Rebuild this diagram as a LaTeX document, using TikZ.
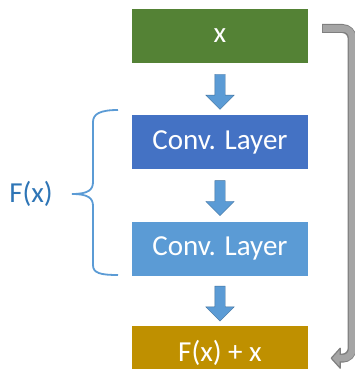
\documentclass[tikz,border=0pt]{standalone}
\usepackage{fontspec}
\setmainfont{Carlito}
\usepackage{tikz}
\usetikzlibrary{calc,positioning,shapes.arrows}
\definecolor{inputGreen}{HTML}{548235}
\definecolor{convDark}{HTML}{4472C4}
\definecolor{convLight}{HTML}{5B9BD5}
\definecolor{outputGold}{HTML}{BF9000}
\definecolor{arrowEdge}{HTML}{41719C}
\definecolor{skipFill}{HTML}{A5A5A5}
\definecolor{skipEdge}{HTML}{7F7F7F}
\definecolor{labelBlue}{HTML}{2E75B6}
\tikzstyle{downArrow} = [single arrow, rotate=-90, draw=arrowEdge, fill=convLight, inner xsep=0pt, inner ysep=5pt, single arrow head extend=9pt, minimum height=35pt]
\tikzstyle{skipOuter} = [line width=9pt, draw=skipEdge, rounded corners=10pt]
\tikzstyle{skipInner} = [line width=6.6pt, draw=skipFill, rounded corners=9pt]
\tikzstyle{skipHead} = [fill=skipFill, draw=skipEdge, line width=1.2pt, line join=round]
\tikzstyle{brace} = [draw=convLight, line width=1.8pt]

\begin{document}
\begin{tikzpicture}[x=1pt,y=1pt]
\tikzset{%
	layer/.style = { rectangle, minimum width=176pt, minimum height=54pt, inner sep=0pt, text=white, font=\fontsize{29}{34}\selectfont }
}
\useasboundingbox (0,0) rectangle (355,369);

\node(Input)		[layer, fill=inputGreen] at (220,333)
								{x};
\node(ConvA)		[layer, fill=convDark, below=52pt of Input.south]
								{Conv. Layer};
\node(ConvB)		[layer, fill=convLight, below=52pt of ConvA.south]
								{Conv. Layer};
\node(Output)		[layer, fill=outputGold, below=50pt of ConvB.south]
								{F(x) + x};

\node(ArrowA)		[downArrow] at ($(Input.south)!0.5!(ConvA.north)$) {};
\node(ArrowB)		[downArrow] at ($(ConvA.south)!0.5!(ConvB.north)$) {};
\node(ArrowC)		[downArrow] at ($(ConvB.south)!0.5!(Output.north)$) {};

% skip connection
\coordinate (SkipStart)	at ([xshift=14pt, yshift=7.5pt]Input.east);
\coordinate (SkipEnd)	at ([xshift=32pt, yshift=-5pt]Output.east);
\coordinate (SkipTip)	at ([xshift=23pt, yshift=-5pt]Output.east);

\draw [skipOuter]	(SkipStart) -- ++(30,0) |- (SkipEnd);
\draw [skipHead]	(SkipTip) -- ([yshift=10pt]SkipEnd) -- ([yshift=-10pt]SkipEnd) -- cycle;
\draw [skipInner]	([xshift=0.6pt]SkipStart) -- ++(29.4,0) |- ([xshift=-2pt]SkipEnd);

% brace for F(x)
\coordinate (BraceTop)	at (118,259);
\coordinate (BraceTip)	at (72,175);
\coordinate (BraceBot)	at (118,94);
\node(Fx)			[left=19pt of BraceTip, inner sep=0pt, text=labelBlue, font=\fontsize{29}{34}\selectfont]
								{F(x)};

\draw [brace]	(BraceTop) .. controls +(-18,0) and +(0,8) .. ++(-25,-12) -- ++(0,-60)
						.. controls +(0,-8) and +(16,0) .. (BraceTip)
						.. controls +(16,0) and +(0,8) .. ++(21,-12) -- ++(0,-59)
						.. controls +(0,-8) and +(-18,0) .. (BraceBot);

\end{tikzpicture}
\end{document}
